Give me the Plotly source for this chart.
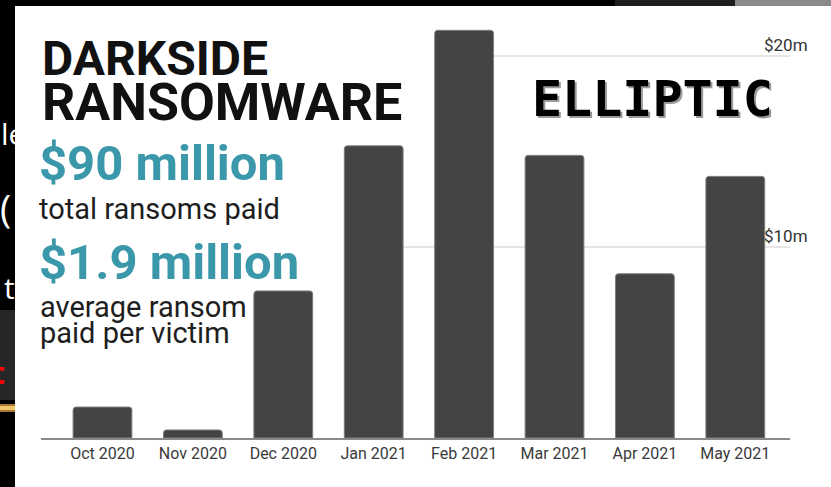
import plotly.graph_objects as go

# ---- data ($ millions) ----
months = ["Oct 2020", "Nov 2020", "Dec 2020", "Jan 2021",
          "Feb 2021", "Mar 2021", "Apr 2021", "May 2021"]
ransoms_musd = [1.62, 0.42, 7.7, 15.3, 21.35, 14.8, 8.6, 13.7]
tick_vals = [10, 20]
tick_text = ["$10m", "$20m"]
grid_start_idx = [3, 4]          # gridline visible from these bars rightwards

W, H = 831, 487
L, R, T, B = 41, 41, 7, 49
PW, PH = W - L - R, H - T - B
XR = [-0.68, 7.605]
YR = [0, 22.57]

def px(x):
    return (x - L) / PW

def py(y):
    return (H - B - y) / PH

fig = go.Figure()
fig.add_trace(go.Bar(
    x=months, y=ransoms_musd,
    marker=dict(color="#444444", line=dict(color="#7c7c7c", width=1),
                cornerradius=3),
    hoverinfo="x+y",
))

shapes = []
# gridlines
for v, s in zip(tick_vals, grid_start_idx):
    shapes.append(dict(type="line", xref="x", yref="y", x0=s, x1=XR[1],
                       y0=v, y1=v, line=dict(color="#dcdcdc", width=1.5),
                       layer="below"))
# slide background pieces (outside the embedded image)
def rect(x0, x1, y0, y1, color):
    shapes.append(dict(type="rect", xref="paper", yref="paper",
                       x0=px(x0), x1=px(x1), y0=py(y1), y1=py(y0),
                       fillcolor=color, line=dict(width=0), layer="above"))

rect(0, 15, 0, H, "#000000")
rect(0, W, 0, 6, "#000000")
rect(615, 735, 0, 6, "#1e1e1e")
rect(735, W, 0, 6, "#8a8a8a")
rect(0, 15, 310, 400, "#262626")
rect(0, 15, 404, 412, "#a87a36")
rect(0, 15, 406, 410, "#f3c46e")

ann = []
def text(t, x, y, size, color, bold=False, family="Roboto", xanchor="left", **kw):
    ann.append(dict(text=t, xref="paper", yref="paper", x=px(x), y=py(y),
                    xanchor=xanchor, yanchor="middle", showarrow=False,
                    align="left",
                    font=dict(family=family, size=size, color=color,
                              weight="bold" if bold else "normal", **kw)))

# slide text fragments in the left strip (partly hidden by the white image)
text("le", -1, 133, 30, "#ffffff", family="Open Sans")
text("(", -2, 208, 38, "#ffffff", family="Open Sans")
text("t", 17, 287, 30, "#ffffff", family="Open Sans", xanchor="right")
text("t", 7, 372, 30, "#ff0000", bold=True, family="Open Sans", xanchor="right")

TEAL = "#3b98aa"
text('<span style="font-size:48px">DARKSIDE</span><br>'
     '<span style="font-size:52px">RANSOMWARE</span>',
     40, 82, 34.6, "#111111", bold=True)
text(f'<span style="font-size:49px;color:{TEAL}"><b>$90 million</b></span><br>'
     '<span style="font-size:29px">total ransoms paid</span>',
     37, 180, 30, "#1e1e1e")
text("$1.9 million", 37, 262, 49, TEAL, bold=True)
text('<span style="font-size:29px">average ransom</span><br>'
     '<span style="font-size:29px">paid per victim</span>',
     38, 320, 20, "#1e1e1e")
text("ELLIPTIC", 652, 99, 50, "#000000", bold=True,
     family="DejaVu Sans Mono", xanchor="center",
     shadow="2px 2px 0px #9a9a9a")

# right-side value labels
for v, t in zip(tick_vals, tick_text):
    ann.append(dict(text=t, xref="paper", yref="y", x=px(810), y=v,
                    xanchor="right", yanchor="bottom", yshift=-1,
                    showarrow=False,
                    font=dict(family="Roboto", size=17, color="#333333")))

fig.update_layout(
    width=W, height=H,
    margin=dict(l=L, r=R, t=T, b=B),
    paper_bgcolor="#ffffff", plot_bgcolor="#ffffff",
    bargap=0.35, showlegend=False,
    shapes=shapes, annotations=ann,
    xaxis=dict(type="category", range=XR, showgrid=False, zeroline=False,
               showline=True, linecolor="#8a8a8a", linewidth=2, ticks="",
               tickfont=dict(family="Roboto", size=16, color="#3a3a3a")),
    yaxis=dict(range=YR, showgrid=False, zeroline=False,
               showticklabels=False, showline=False),
)

fig.write_html("out.html")
